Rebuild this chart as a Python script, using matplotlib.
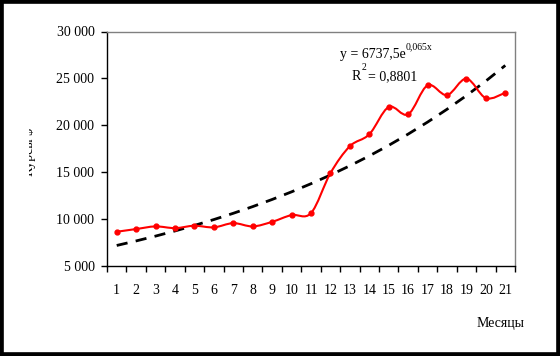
import numpy as np
import matplotlib
matplotlib.use("Agg")
from matplotlib import pyplot as plt
from matplotlib.path import Path
from matplotlib.patches import PathPatch, Rectangle
from matplotlib.transforms import Bbox

plt.rcParams['font.family'] = ['Liberation Serif', 'DejaVu Serif']

# данные
months = np.arange(1, 22)
values = [8650, 8940, 9220, 9040, 9290, 9120, 9570, 9220, 9710, 10430, 10640,
          14900, 17770, 19040, 21950, 21170, 24260, 23220, 24970, 22900, 23470]
trend_a = 6737.5
trend_b = 0.065
y_ticks = [5000, 10000, 15000, 20000, 25000, 30000]
y_labels = ['5 000', '10 000', '15 000', '20 000', '25 000', '30 000']

fig = plt.figure(figsize=(5.6, 3.56), dpi=100)
ax = fig.add_axes([107/560, 1 - 266/356, 408/560, (266 - 31.5)/356])

# сглаженная линия (как в Excel) - кривые Безье через точки
pts = np.column_stack([months, values]).astype(float)
n = len(pts)
verts = [pts[0]]
codes = [Path.MOVETO]
for i in range(n - 1):
    p0 = pts[i - 1] if i > 0 else pts[i]
    p1 = pts[i]
    p2 = pts[i + 1]
    p3 = pts[i + 2] if i + 2 < n else pts[i + 1]
    c1 = p1 + (p2 - p0) / 6.0
    c2 = p2 - (p3 - p1) / 6.0
    verts += [c1, c2, p2]
    codes += [Path.CURVE4] * 3
ax.add_patch(PathPatch(Path(verts, codes), facecolor='none', edgecolor='#ff0000',
                       lw=1.5, zorder=3))
ax.plot(months, values, 'o', color='#ff0000', ms=3.5, zorder=4)

trend = trend_a * np.exp(trend_b * months)
ax.plot(months, trend, color='black', lw=2, linestyle=(0, (4, 3)), zorder=2)

ax.set_xlim(0.5, 21.5)
ax.set_ylim(5000, 30000)
ax.set_xticks(months)
ax.set_xticklabels([str(m) for m in months])
ax.set_xticks(np.arange(0.5, 22, 1), minor=True)
ax.tick_params(axis='x', which='major', length=0, pad=13, labelsize=10)
ax.tick_params(axis='x', which='minor', length=4, width=1, direction='out')
ax.set_yticks(y_ticks)
ax.set_yticklabels(y_labels)
ax.tick_params(axis='y', length=4, width=1, pad=5, labelsize=10)

ax.spines['left'].set_linewidth(1)
ax.spines['bottom'].set_linewidth(1)
for s in ['top', 'right']:
    ax.spines[s].set_color('#808080')
    ax.spines[s].set_linewidth(1)

# уравнение тренда, степени отдельным мелким текстом
eq = fig.text(340/560, 1 - 58/356, 'y = 6737,5e', fontsize=10, ha='left', va='baseline')
r2 = fig.text(352/560, 1 - 80/356, 'R', fontsize=10, ha='left', va='baseline')
fig.canvas.draw()
r = fig.canvas.get_renderer()
bb = eq.get_window_extent(r)
fig.text(bb.x1 / 560, (356 - 49) / 356, '0,065x', fontsize=7, ha='left', va='baseline')
bb = r2.get_window_extent(r)
fig.text((bb.x1 + 0.5) / 560, (356 - 70) / 356, '2', fontsize=7, ha='left', va='baseline')
fig.text((bb.x1 + 7) / 560, 1 - 80/356, '= 0,8801', fontsize=10, ha='left', va='baseline')

fig.text(501/560, 1 - 323/356, 'Месяцы', fontsize=10, ha='center', va='center')

yl = fig.text(29/560, 1 - 152/356, 'Курсы $', fontsize=10, rotation=90,
              ha='center', va='center')
yl.set_clip_box(Bbox.from_extents(29, 0, 560, 356))
yl.set_clip_on(True)

# чёрная рамка
fig.patches.append(Rectangle((0, 0), 1, 1, transform=fig.transFigure, fill=False,
                             edgecolor='black', lw=5.5))

fig.savefig('out.png', dpi=100)
